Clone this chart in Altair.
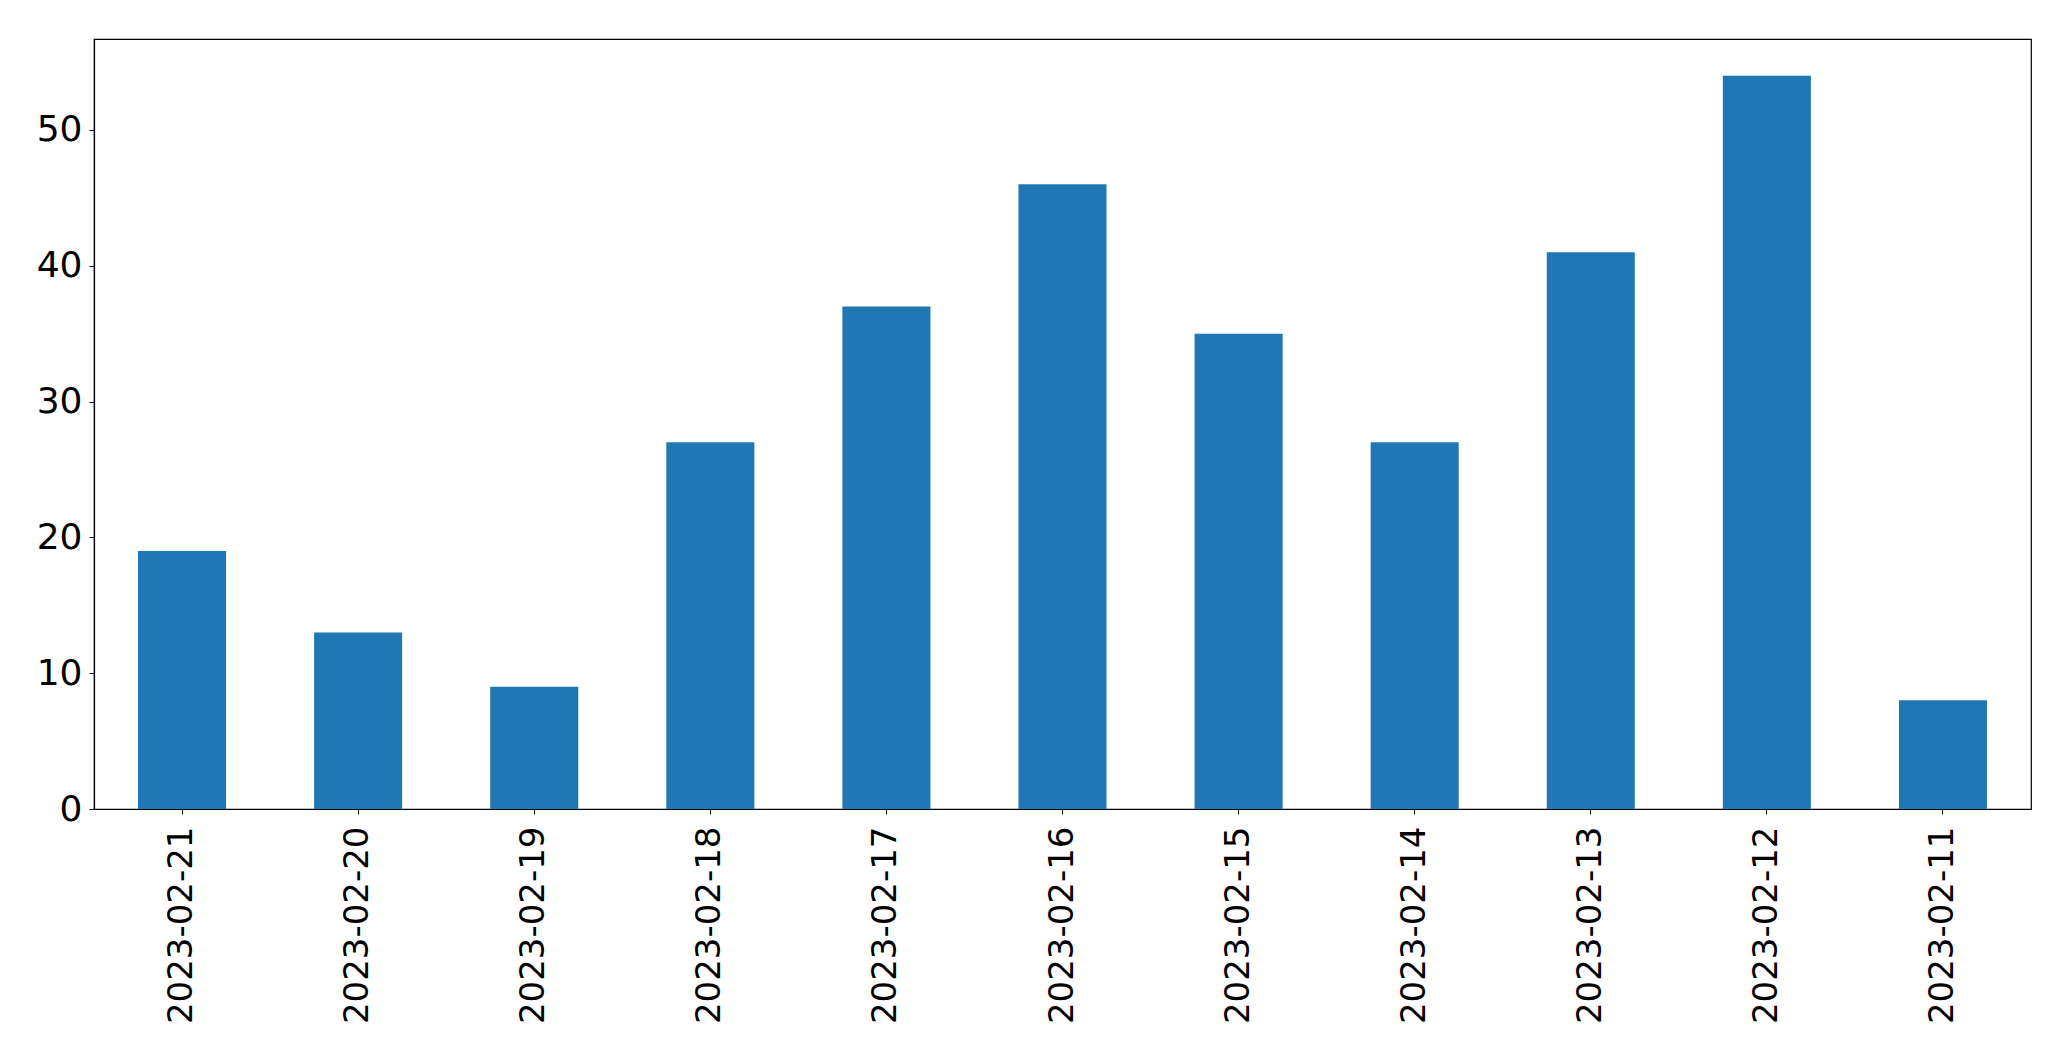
import altair as alt
import pandas as pd

dates = ["2023-02-21", "2023-02-20", "2023-02-19", "2023-02-18", "2023-02-17",
         "2023-02-16", "2023-02-15", "2023-02-14", "2023-02-13", "2023-02-12", "2023-02-11"]
counts = [19, 13, 9, 27, 37, 46, 35, 27, 41, 54, 8]
y_ticks = [0, 10, 20, 30, 40, 50]

df = pd.DataFrame({"date": dates, "count": counts})

chart = alt.Chart(df).mark_bar(color="#1f77b4").encode(
    x=alt.X("date:N", sort=dates, title=None,
            scale=alt.Scale(paddingInner=0.5, paddingOuter=0.25),
            axis=alt.Axis(labelAngle=270, labelAlign="right", labelBaseline="middle",
                          labelFontSize=34, labelFont="DejaVu Sans", labelColor="black",
                          labelLimit=1000,
                          tickColor="black", tickSize=5, labelPadding=12,
                          domainColor="black", domainWidth=1.2)),
    y=alt.Y("count:Q", title=None,
            scale=alt.Scale(domain=[0, 56.7], nice=False, zero=True),
            axis=alt.Axis(values=y_ticks, grid=False, labelFontSize=36,
                          labelFont="DejaVu Sans", labelColor="black",
                          tickColor="black", tickSize=5, labelPadding=7,
                          domainColor="black", domainWidth=1.2)),
).properties(
    width=1937, height=770,
    autosize=alt.AutoSizeParams(type="none"),
    padding={"left": 86, "top": 31, "right": 30, "bottom": 240},
).configure_view(
    stroke="black", strokeWidth=1.2
)

chart.save("out.html", embed_options={"renderer": "svg", "actions": False})
